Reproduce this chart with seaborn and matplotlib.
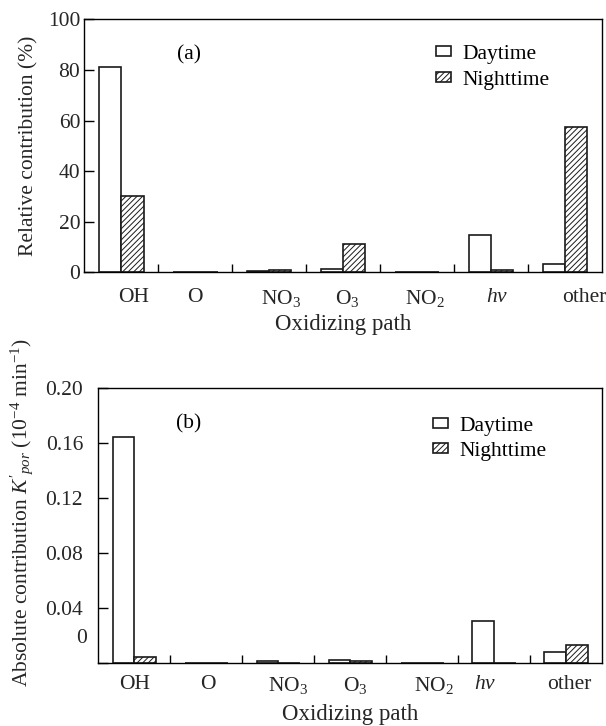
import numpy as np
import pandas as pd
import matplotlib
matplotlib.use("Agg")
import matplotlib.pyplot as plt
import seaborn as sns
from matplotlib.ticker import FixedLocator
from matplotlib.transforms import ScaledTranslation

# ---------------- data ----------------
paths = ["OH", "O", "NO3", "O3", "NO2", "hv", "other"]
path_labels = ["OH", "O", "NO$_3$", "O$_3$", "NO$_2$", "$hv$", "other"]
periods = ["Daytime", "Nighttime"]

day_rel = [81.0, 0.0, 0.4, 1.2, 0.0, 14.6, 3.3]
night_rel = [30.2, 0.0, 1.1, 11.1, 0.0, 1.1, 57.3]

day_abs = [0.164, 0.0, 0.0015, 0.0020, 0.0, 0.030, 0.0077]
night_abs = [0.004, 0.0, 0.0, 0.0012, 0.0, 0.0, 0.0128]

rel_ticks = [0, 20, 40, 60, 80, 100]
rel_ticklabels = ["0", "20", "40", "60", "80", "100"]
abs_ticks = [0, 0.04, 0.08, 0.12, 0.16, 0.20]
abs_ticklabels = ["0", "0.04", "0.08", "0.12", "0.16", "0.20"]

# horizontal nudges (px) of the category labels, as typeset in the original
label_nudge_a = [12, 0, 12, 4, 8, 6, 19]
label_nudge_b = [0, 2, 10, 5, 12, -9, 3]

# ---------------- style ----------------
sns.set_theme(style="white")
plt.rcParams["font.family"] = ["Liberation Serif", "DejaVu Serif"]
plt.rcParams["mathtext.fontset"] = "custom"
plt.rcParams["mathtext.rm"] = "Liberation Serif"
plt.rcParams["mathtext.it"] = "Liberation Serif:italic"
plt.rcParams["mathtext.bf"] = "Liberation Serif:bold"
plt.rcParams["hatch.linewidth"] = 0.7
plt.rcParams["axes.edgecolor"] = "black"
plt.rcParams["text.color"] = "black"

FS = 15.5

fig = plt.figure(figsize=(6.06, 7.26), dpi=100)
ax1 = fig.add_axes([0.1393, 0.6249, 0.8541, 0.3485])
ax2 = fig.add_axes([0.1622, 0.0872, 0.8312, 0.3788])


def draw(ax, day, night, ylim, ticks, ticklabels, ylabel, tag, tag_xy,
         ylab_xy, leg_anchor, ypad, xpad, nudges):
    df = pd.DataFrame({
        "path": paths * 2,
        "period": [periods[0]] * len(paths) + [periods[1]] * len(paths),
        "value": list(day) + list(night),
    })
    sns.barplot(data=df, x="path", y="value", hue="period", order=paths,
                hue_order=periods, palette=["white", "white"], saturation=1,
                edgecolor="#1a1a1a", linewidth=1.2, width=0.6, gap=0,
                errorbar=None, legend=False, ax=ax)
    for bar in ax.containers[1]:
        bar.set_hatch("//////")

    ax.set_xlim(-0.5, len(paths) - 0.5)
    ax.set_ylim(*ylim)
    ax.set_yticks(ticks)
    ax.set_yticklabels(ticklabels)
    ax.set_xticks(range(len(paths)))
    ax.set_xticklabels(path_labels)
    ax.xaxis.set_minor_locator(FixedLocator(np.arange(0.5, len(paths) - 0.5, 1)))
    ax.tick_params(axis="x", which="major", length=0, labelsize=FS, pad=xpad)
    ax.tick_params(axis="x", which="minor", bottom=True, direction="in",
                   length=6, width=1.0, color="black")
    ax.tick_params(axis="y", which="major", left=True, direction="in",
                   length=7, width=1.0, color="black", labelsize=FS, pad=ypad)
    for s in ax.spines.values():
        s.set_visible(True)
        s.set_color("black")
        s.set_linewidth(1.0)

    for lab, dx in zip(ax.get_xticklabels(), nudges):
        lab.set_transform(lab.get_transform() +
                          ScaledTranslation(dx / 100, 0, fig.dpi_scale_trans))

    ax.set_xlabel("Oxidizing path", fontsize=16.5)
    ax.set_ylabel(ylabel, fontsize=FS)
    ax.xaxis.label.set_va("center")
    ax.yaxis.label.set_va("center")
    ax.yaxis.set_label_coords(*ylab_xy)
    ax.text(tag_xy[0], tag_xy[1], tag, transform=ax.transAxes, fontsize=FS,
            ha="center", va="center")

    handles = [ax.containers[0].patches[0], ax.containers[1].patches[0]]
    ax.legend(handles, periods, loc="upper left", bbox_to_anchor=leg_anchor,
              frameon=False, fontsize=FS, handlelength=0.7, handleheight=0.35,
              handletextpad=0.5, labelspacing=0.3, borderaxespad=0,
              borderpad=0)


draw(ax1, day_rel, night_rel, (0, 100), rel_ticks, rel_ticklabels,
     "Relative contribution (%)", "(a)", (0.203, 0.86), (-0.107, 0.5),
     (0.68, 0.898), 3, 11, label_nudge_a)
ax1.xaxis.set_label_coords(0.5, -0.208)

draw(ax2, day_abs, night_abs, (0, 0.20), abs_ticks, abs_ticklabels,
     r"Absolute contribution $K'_{por}$ (10$^{-4}$ min$^{-1}$)", "(b)",
     (0.18, 0.87), (-0.153, 0.545), (0.665, 0.895), 11, 9, label_nudge_b)
ax2.xaxis.set_label_coords(0.5, -0.19)

# the "0" label of panel (b) sits above the axis floor in the original
lab0 = ax2.get_yticklabels()[0]
lab0.set_transform(lab0.get_transform() +
                   ScaledTranslation(0.04, 0.265, fig.dpi_scale_trans))

fig.savefig("out.png", dpi=100)
